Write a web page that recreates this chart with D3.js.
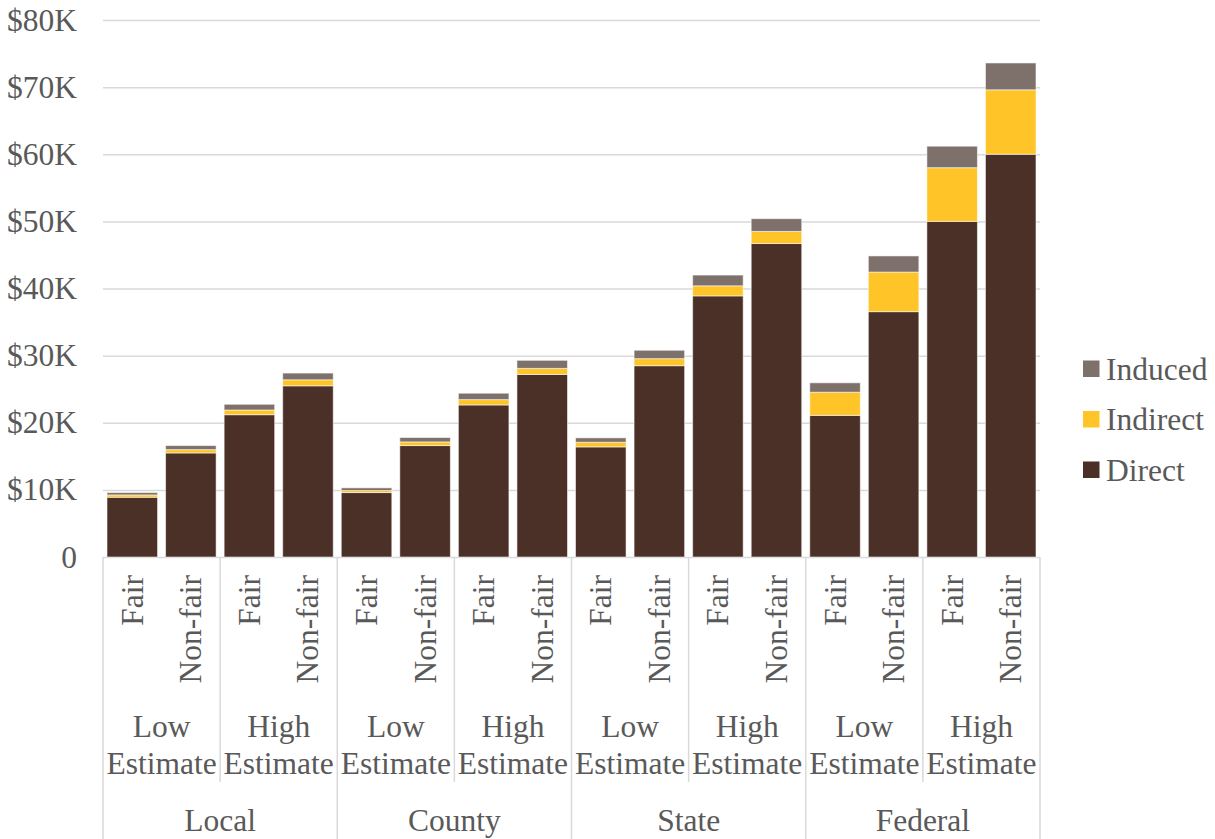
<!DOCTYPE html>
<html>
<head>
<meta charset="utf-8">
<script src="https://cdn.jsdelivr.net/npm/d3@7"></script>
<style>
  body { margin: 0; background: #fff; }
  text { font-family: "Liberation Serif", "Times New Roman", serif; fill: #595959; }
</style>
</head>
<body>
<div id="chart"></div>
<script>
// Data ($K)
const regions = ["Local", "County", "State", "Federal"];
const estimates = [["Low", "Estimate"], ["High", "Estimate"]];
const types = ["Fair", "Non-fair"];
const direct   = [8.9, 15.5, 21.2, 25.5, 9.6, 16.6, 22.65, 27.2, 16.4, 28.5, 38.9, 46.7, 21.1, 36.55, 50.0, 60.0];
const indirect = [0.35, 0.5, 0.7, 0.9, 0.3, 0.55, 0.8, 0.9, 0.7, 1.05, 1.5, 1.8, 3.45, 5.9, 8.0, 9.6];
const induced  = [0.35, 0.6, 0.85, 1.0, 0.4, 0.65, 0.95, 1.2, 0.65, 1.25, 1.6, 1.9, 1.4, 2.4, 3.2, 4.0];
const seriesNames = ["Direct", "Indirect", "Induced"];
const yTicks = [0, 10, 20, 30, 40, 50, 60, 70, 80];

const colors = { Direct: "#4a3026", Indirect: "#ffc427", Induced: "#7e706b" };

const width = 1215, height = 839;
const plotLeft = 103, plotRight = 1040, plotTop = 20, plotBottom = 557;
const fontSize = 31.5;
const font = "'Liberation Serif', 'Times New Roman', serif";

// build rows
const rows = [];
regions.forEach((r, ri) => {
    estimates.forEach((e, ei) => {
        types.forEach((t, ti) => {
            const i = ri * 4 + ei * 2 + ti;
            rows.push({ key: `${r}|${ei}|${t}`, region: r, est: ei, type: t,
                Direct: direct[i], Indirect: indirect[i], Induced: induced[i] });
        });
    });
});

const svg = d3.select("#chart").append("svg")
    .attr("width", width).attr("height", height);

const x = d3.scaleBand()
    .domain(rows.map(d => d.key))
    .range([plotLeft, plotRight])
    .paddingInner(0.137)
    .paddingOuter(0.137 / 2);

const y = d3.scaleLinear().domain([0, 80]).range([plotBottom, plotTop]);

// gridlines + y labels
const yAxis = svg.append("g")
    .attr("transform", `translate(${plotLeft},0)`)
    .call(d3.axisLeft(y)
        .tickValues(yTicks)
        .tickSize(-(plotRight - plotLeft))
        .tickPadding(26)
        .tickFormat(d => d === 0 ? "0" : `$${d}K`));
yAxis.select(".domain").remove();
yAxis.selectAll(".tick line").attr("stroke", "#d9d9d9").attr("stroke-width", 1.5);
yAxis.selectAll(".tick text")
    .style("font-size", fontSize + "px")
    .style("font-family", font)
    .attr("fill", "#595959");

// stacked bars
const stack = d3.stack().keys(seriesNames)(rows);
svg.append("g").selectAll("g")
    .data(stack)
    .join("g")
    .attr("fill", s => colors[s.key])
    .selectAll("rect")
    .data(s => s)
    .join("rect")
    .attr("x", d => x(d.data.key))
    .attr("width", x.bandwidth())
    .attr("y", d => y(d[1]))
    .attr("height", d => y(d[0]) - y(d[1]))
    .attr("stroke", "#ffffff")
    .attr("stroke-opacity", 0.55)
    .attr("stroke-width", 1);

// category axis
const step = x.step();
const edge = i => plotLeft + i * step;
const axisG = svg.append("g");

// separators
for (let i = 0; i <= 16; i += 2) {
    const full = i % 4 === 0;
    axisG.append("line")
        .attr("x1", edge(i)).attr("x2", edge(i))
        .attr("y1", plotBottom).attr("y2", full ? height : 782)
        .attr("stroke", "#d9d9d9").attr("stroke-width", 1.5);
}

// level 1: Fair / Non-fair
axisG.selectAll("text.type")
    .data(rows)
    .join("text")
    .attr("class", "type")
    .attr("transform", d => `translate(${x(d.key) + x.bandwidth() / 2},575) rotate(-90)`)
    .attr("text-anchor", "end")
    .attr("dominant-baseline", "central")
    .style("font-size", fontSize + "px")
    .style("font-family", font)
    .text(d => d.type);

// level 2: Low / High Estimate
for (let g = 0; g < 8; g++) {
    const cx = (edge(g * 2) + edge(g * 2 + 2)) / 2;
    const lab = estimates[g % 2];
    const t = axisG.append("text")
        .attr("x", cx)
        .attr("text-anchor", "middle")
        .style("font-size", fontSize + "px")
        .style("font-family", font);
    t.append("tspan").attr("x", cx).attr("y", 737).text(lab[0]);
    t.append("tspan").attr("x", cx).attr("y", 774).text(lab[1]);
}

// level 3: regions
regions.forEach((r, ri) => {
    axisG.append("text")
        .attr("x", (edge(ri * 4) + edge(ri * 4 + 4)) / 2)
        .attr("y", 831)
        .attr("text-anchor", "middle")
        .style("font-size", fontSize + "px")
        .style("font-family", font)
        .text(r);
});

// legend
const legendOrder = ["Induced", "Indirect", "Direct"];
const legend = svg.append("g").selectAll("g")
    .data(legendOrder)
    .join("g")
    .attr("transform", (d, i) => `translate(1083,${369 + i * 50.5})`);
legend.append("rect")
    .attr("x", 0).attr("y", -8.5)
    .attr("width", 16.5).attr("height", 16.5)
    .attr("fill", d => colors[d]);
legend.append("text")
    .attr("x", 23).attr("y", 0)
    .attr("dominant-baseline", "central")
    .style("font-size", fontSize + "px")
    .style("font-family", font)
    .text(d => d);
</script>
</body>
</html>
